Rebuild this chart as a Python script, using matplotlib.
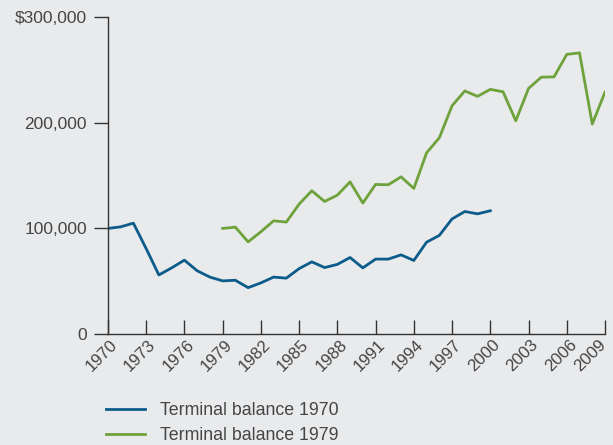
import matplotlib
matplotlib.use('Agg')
import matplotlib.pyplot as plt
import matplotlib.ticker as mticker
import matplotlib.transforms as mtransforms

# dados
years_1970 = list(range(1970, 2001))
balance_1970 = [100000, 101500, 105000, 81000, 56000, 62700, 70000, 60000, 54000, 50400,
                51000, 44000, 48500, 54000, 53000, 62000, 68400, 63000, 66000, 72500,
                62700, 71000, 71000, 75000, 69700, 87000, 93400, 109000, 116000, 113800,
                116700]

years_1979 = list(range(1979, 2010))
balance_1979 = [100000, 101200, 87300, 96800, 107200, 106000, 123000, 135600, 125500, 131500,
                144000, 124000, 141600, 141300, 148800, 137800, 171500, 185700, 216000, 230000,
                224900, 231500, 229200, 201800, 232400, 243000, 243300, 264600, 266000, 198700,
                229000]

x_ticks = list(range(1970, 2010, 3))
y_ticks = [0, 100000, 200000, 300000]

bg = '#e9eaec'
text_color = '#454545'

plt.rcParams['font.family'] = ['Liberation Sans', 'DejaVu Sans']
plt.rcParams['font.size'] = 12.5

fig = plt.figure(figsize=(6.13, 4.45), dpi=100, facecolor=bg)
ax = fig.add_axes([0.176, 0.249, 0.811, 0.713], facecolor=bg)

ax.plot(years_1970, balance_1970, color='#0b5c8a', linewidth=2, label='Terminal balance 1970')
ax.plot(years_1979, balance_1979, color='#6ea33c', linewidth=2, label='Terminal balance 1979')

ax.set_xlim(1970, 2009)
ax.set_ylim(0, 300000)

ax.set_xticks(x_ticks)
ax.set_xticklabels([str(y) for y in x_ticks], rotation=45, ha='right', va='top',
                   rotation_mode='anchor', color=text_color, fontsize=12.2)
ax.set_yticks(y_ticks)
ax.yaxis.set_major_formatter(mticker.FuncFormatter(
    lambda v, p: '$300,000' if v == 300000 else '{:,.0f}'.format(v)))
for lbl in ax.get_yticklabels():
    lbl.set_color(text_color)

ax.tick_params(axis='x', direction='in', length=10, width=1, color='#333333', pad=2)
ax.tick_params(axis='y', direction='out', length=10, width=1, color='#333333', pad=5)

# deslocar os rótulos do eixo x um pouco; o último vai para a esquerda para não cortar
xlabels = ax.get_xticklabels()
for lbl in xlabels[:-1]:
    lbl.set_transform(lbl.get_transform() +
                      mtransforms.ScaledTranslation(0.02, 0, fig.dpi_scale_trans))
xlabels[-1].set_transform(xlabels[-1].get_transform() +
                          mtransforms.ScaledTranslation(-0.07, 0, fig.dpi_scale_trans))

for s in ['top', 'right']:
    ax.spines[s].set_visible(False)
for s in ['left', 'bottom']:
    ax.spines[s].set_color('#333333')
    ax.spines[s].set_linewidth(1)

fig.legend(loc='upper left', bbox_to_anchor=(0.155, 0.121), frameon=False,
           handlelength=2.2, handletextpad=0.85, labelspacing=0.45, fontsize=12.8,
           labelcolor=text_color, borderaxespad=0.2)

plt.savefig('out.png', dpi=100, facecolor=bg)
